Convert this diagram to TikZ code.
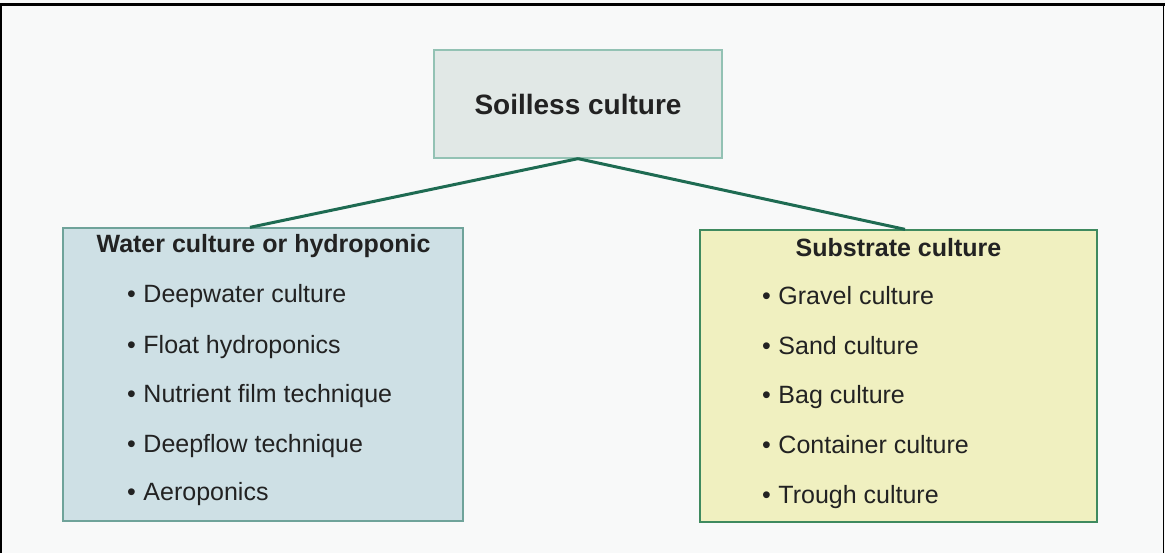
\documentclass[tikz,border=0pt]{standalone}
\usepackage{fontspec}
\setmainfont{Liberation Sans}
\usetikzlibrary{calc}
\definecolor{bgc}{HTML}{F8F9F9}
\definecolor{topfill}{HTML}{E1E8E6}
\definecolor{topdraw}{HTML}{93C2B4}
\definecolor{leftfill}{HTML}{CEE0E5}
\definecolor{leftdraw}{HTML}{6FA39A}
\definecolor{rightfill}{HTML}{F0F0C0}
\definecolor{rightdraw}{HTML}{3F8A5F}
\definecolor{linkc}{HTML}{1E6B52}
\definecolor{txt}{HTML}{222222}
\tikzset{
  boxnode/.style={rectangle, inner sep=0pt, line width=1.3pt},
  headtxt/.style={anchor=base, inner sep=0pt, text=txt, font=\fontsize{25}{30}\selectfont\bfseries},
  itemtxt/.style={anchor=base west, inner sep=0pt, text=txt, font=\fontsize{25}{30}\selectfont},
  link/.style={draw=linkc, line width=3pt}
}
\begin{document}
\begin{tikzpicture}[x=1pt,y=-1pt]
\useasboundingbox (0,0) rectangle (1165,553);
\fill[bgc] (0,0) rectangle (1165,553);
% frame
\draw[black, line width=3pt] (0,5) -- (1165,5);
\draw[black, line width=1.2pt] (1,5) -- (1,553);
\draw[black, line width=1.2pt] (1163.5,5) -- (1163.5,553);
% boxes
\node[boxnode, fill=topfill, draw=topdraw, minimum width=288pt, minimum height=108pt,
      text=txt, font=\fontsize{28}{34}\selectfont\bfseries] (top) at (578,104) {Soilless culture};
\node[boxnode, fill=leftfill, draw=leftdraw, minimum width=400pt, minimum height=293pt] (left) at (263,374.5) {};
\node[boxnode, fill=rightfill, draw=rightdraw, minimum width=397pt, minimum height=292pt] (right) at (898.5,376) {};
% connectors
\draw[link] (top.south) -- ($(left.north)+(-13,0)$);
\draw[link] (top.south) -- ($(right.north)+(6.5,0)$);
% left content
\node[headtxt] (lh) at (263.5,253) {Water culture or hydroponic};
\node[itemtxt] (l1) at (127,303) {•\hspace{0.3em}Deepwater culture};
\node[itemtxt] (l2) at (127,353) {•\hspace{0.3em}Float hydroponics};
\node[itemtxt] (l3) at (127,402) {•\hspace{0.3em}Nutrient film technique};
\node[itemtxt] (l4) at (127,452) {•\hspace{0.3em}Deepflow technique};
\node[itemtxt] (l5) at (127,500) {•\hspace{0.3em}Aeroponics};
% right content
\node[headtxt] (rh) at (898.5,257) {Substrate culture};
\node[itemtxt] (r1) at (762,305) {•\hspace{0.3em}Gravel culture};
\node[itemtxt] (r2) at (762,355) {•\hspace{0.3em}Sand culture};
\node[itemtxt] (r3) at (762,403) {•\hspace{0.3em}Bag culture};
\node[itemtxt] (r4) at (762,453) {•\hspace{0.3em}Container culture};
\node[itemtxt] (r5) at (762,503) {•\hspace{0.3em}Trough culture};
\end{tikzpicture}
\end{document}
